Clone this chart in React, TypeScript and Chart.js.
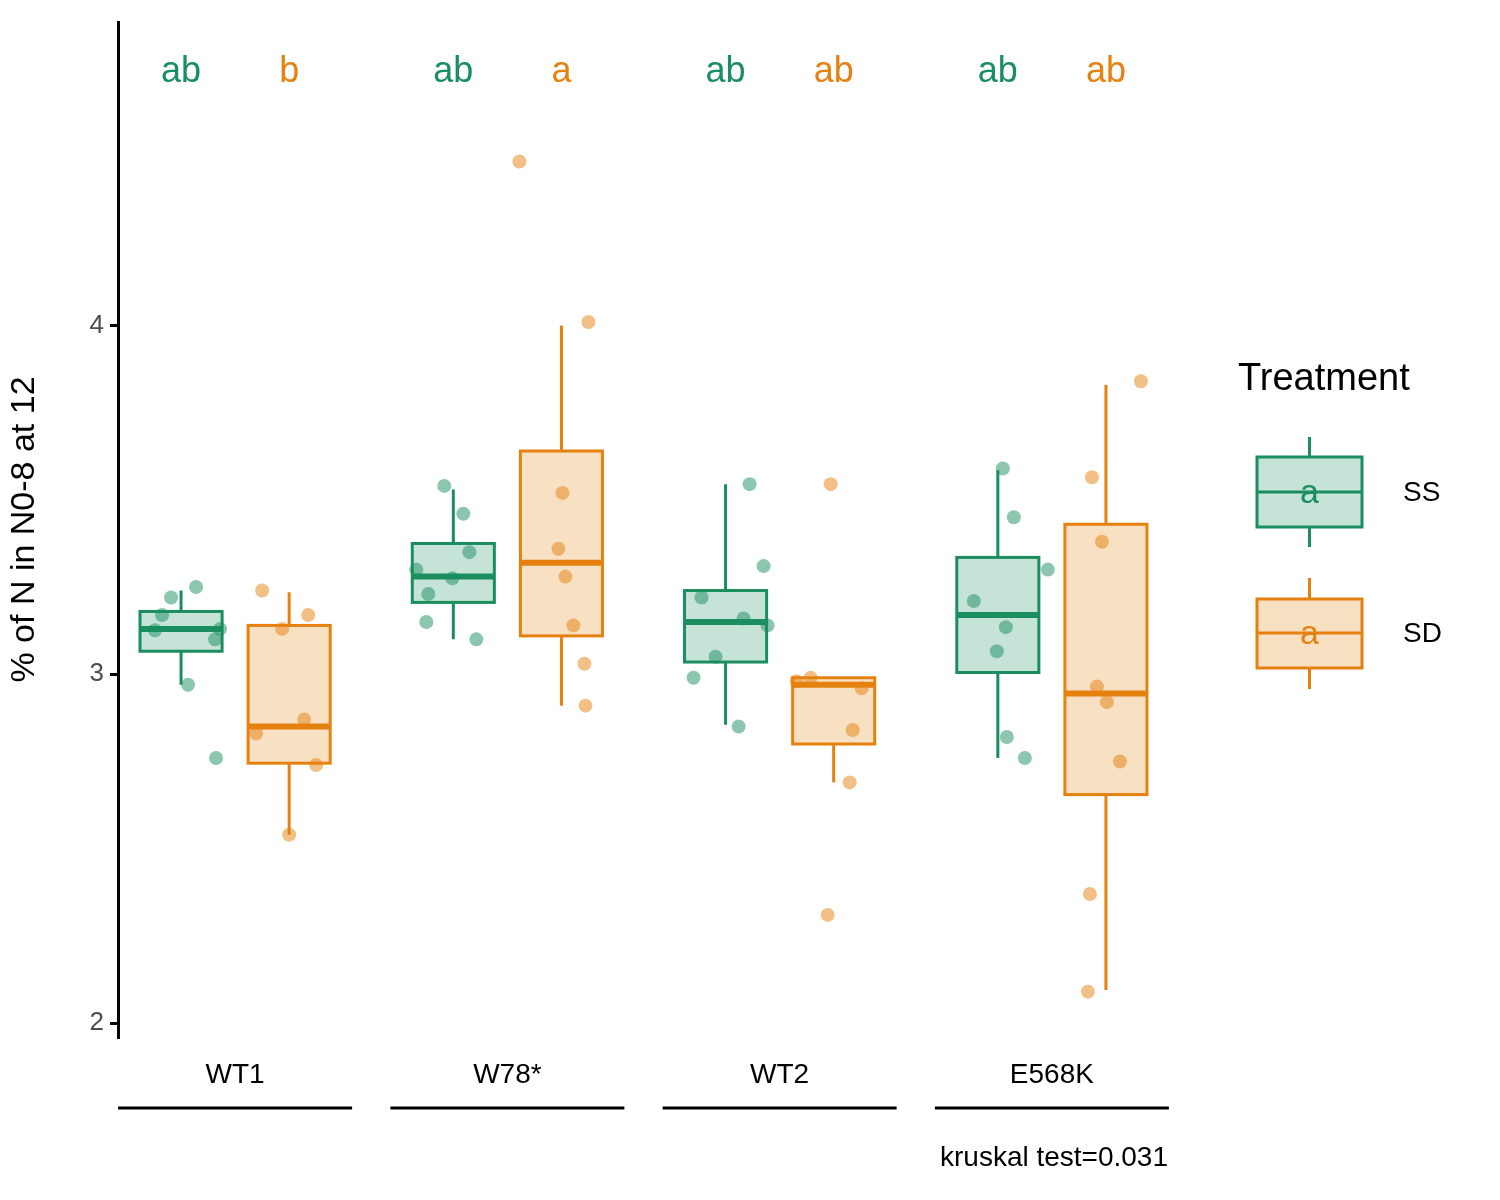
import React, { useEffect, useRef } from "react";
import { Chart, registerables } from "chart.js";
Chart.register(...registerables);

const categories = ["WT1", "W78*", "WT2", "E568K"];
const treatments = ["SS", "SD"];
const colors = ["#1b8e60", "#e5820f"];
const letters = [["ab", "b"], ["ab", "a"], ["ab", "ab"], ["ab", "ab"]];
// [whiskerLow, q1, median, q3, whiskerHigh] per category
const boxSS = [
  [2.97, 3.066, 3.13, 3.18, 3.24],
  [3.10, 3.206, 3.28, 3.375, 3.53],
  [2.855, 3.035, 3.15, 3.24, 3.545],
  [2.76, 3.005, 3.17, 3.335, 3.585],
];
const boxSD = [
  [2.54, 2.745, 2.85, 3.14, 3.235],
  [2.91, 3.11, 3.32, 3.64, 4.0],
  [2.69, 2.80, 2.97, 2.99, 2.99],
  [2.095, 2.655, 2.945, 3.43, 3.83],
];
const ptsSS = [
  [3.126, 3.17, 3.22, 3.25, 2.97, 2.76, 3.10, 3.13],
  [3.54, 3.46, 3.35, 3.30, 3.23, 3.275, 3.15, 3.10],
  [3.545, 3.22, 3.31, 3.16, 3.14, 3.05, 2.99, 2.85],
  [3.59, 3.45, 3.21, 3.135, 3.30, 3.066, 2.82, 2.76],
];
const jitSS = [
  [-26, -19, -10, 15, 7, 35, 34, 39],
  [-9, 10, 16, -37, -25, -1, -27, 23],
  [24, -24, 38, 18, 42, -10, -32, 13],
  [5, 16, -24, 8, 50, -1, 9, 27],
];
const ptsSD = [
  [3.24, 3.13, 3.17, 2.87, 2.83, 2.74, 2.54],
  [4.47, 4.01, 3.52, 3.36, 3.28, 3.14, 3.03, 2.91],
  [3.545, 2.98, 2.99, 2.96, 2.84, 2.69, 2.31],
  [3.84, 3.565, 3.38, 2.965, 2.92, 2.75, 2.37, 2.09],
];
const jitSD = [
  [-27, -7, 19, 15, -33, 27, 0],
  [-42, 27, 1, -3, 4, 12, 23, 24],
  [-3, -37, -23, 28, 19, 16, -6],
  [35, -14, -4, -9, 1, 14, -16, -18],
];
const yTicks = [2, 3, 4];
const kruskal = "kruskal test=0.031";
const yTitle = "% of N in N0-8 at 12";

const PX_PER_UNIT = 272;
const DODGE = 54 / PX_PER_UNIT;
const HALF_BOX = 41 / PX_PER_UNIT;
const FONT = "Liberation Sans, Arial, sans-serif";

function alpha(hex: string, a: number) {
  const n = parseInt(hex.slice(1), 16);
  return `rgba(${(n >> 16) & 255},${(n >> 8) & 255},${n & 255},${a})`;
}

export default function App() {
  const ref = useRef<HTMLCanvasElement>(null);
  useEffect(() => {
    const boxes = [boxSS, boxSD];
    const pts = [ptsSS, ptsSD];
    const jits = [jitSS, jitSD];
    const datasets = treatments.map((t, ti) => ({
      label: t,
      data: pts[ti].flatMap((arr, ci) =>
        arr.map((v, k) => ({ x: ci + 1 + (ti === 0 ? -DODGE : DODGE) + jits[ti][ci][k] / PX_PER_UNIT, y: v }))
      ),
      backgroundColor: alpha(colors[ti], 0.5),
      borderWidth: 0,
      pointRadius: 7,
      order: 0,
    }));

    const boxPlugin = {
      id: "boxes",
      beforeDatasetsDraw(chart: any) {
        const { ctx, scales } = chart;
        const x = scales.x, y = scales.y;
        boxes.forEach((bx, ti) => {
          bx.forEach((b, ci) => {
            const cx = ci + 1 + (ti === 0 ? -DODGE : DODGE);
            const xl = x.getPixelForValue(cx - HALF_BOX), xr = x.getPixelForValue(cx + HALF_BOX), xc = x.getPixelForValue(cx);
            const [lo, q1, md, q3, hi] = b.map((v: number) => y.getPixelForValue(v));
            ctx.save();
            ctx.strokeStyle = colors[ti];
            ctx.lineWidth = 3;
            ctx.beginPath();
            ctx.moveTo(xc, hi); ctx.lineTo(xc, q3);
            ctx.moveTo(xc, q1); ctx.lineTo(xc, lo);
            ctx.stroke();
            ctx.fillStyle = alpha(colors[ti], 0.25);
            ctx.fillRect(xl, q3, xr - xl, q1 - q3);
            ctx.strokeRect(xl, q3, xr - xl, q1 - q3);
            ctx.lineWidth = 6;
            ctx.beginPath(); ctx.moveTo(xl, md); ctx.lineTo(xr, md); ctx.stroke();
            ctx.restore();
          });
        });
      },
      afterDraw(chart: any) {
        const { ctx, scales, chartArea } = chart;
        const x = scales.x, y = scales.y;
        ctx.save();
        ctx.textAlign = "center";
        ctx.textBaseline = "middle";
        // letters
        ctx.font = `36px ${FONT}`;
        letters.forEach((pair, ci) => {
          pair.forEach((l, ti) => {
            ctx.fillStyle = colors[ti];
            ctx.fillText(l, x.getPixelForValue(ci + 1 + (ti === 0 ? -DODGE : DODGE)), y.getPixelForValue(4.725));
          });
        });
        // x labels and underline bars
        categories.forEach((c, ci) => {
          const xc = x.getPixelForValue(ci + 1);
          ctx.fillStyle = "#000";
          ctx.font = `28px ${FONT}`;
          ctx.fillText(c, xc, chartArea.bottom + 38);
          ctx.strokeStyle = "#000";
          ctx.lineWidth = 3;
          ctx.beginPath();
          ctx.moveTo(xc - 117, chartArea.bottom + 71);
          ctx.lineTo(xc + 117, chartArea.bottom + 71);
          ctx.stroke();
        });
        ctx.textAlign = "right";
        ctx.font = `28px ${FONT}`;
        ctx.fillStyle = "#000";
        ctx.fillText(kruskal, chartArea.right - 2, chartArea.bottom + 121);
        // legend
        ctx.textAlign = "left";
        ctx.font = `38px ${FONT}`;
        ctx.fillText("Treatment", 1238, 380);
        const keys = [[437, 457, 492, 527, 547], [578, 599, 633, 668, 689]];
        keys.forEach((k, ti) => {
          const xl = 1257, xr = 1362, xc = (xl + xr) / 2;
          ctx.strokeStyle = colors[ti];
          ctx.lineWidth = 3;
          ctx.beginPath();
          ctx.moveTo(xc, k[0]); ctx.lineTo(xc, k[1]);
          ctx.moveTo(xc, k[3]); ctx.lineTo(xc, k[4]);
          ctx.stroke();
          ctx.fillStyle = alpha(colors[ti], 0.25);
          ctx.fillRect(xl, k[1], xr - xl, k[3] - k[1]);
          ctx.strokeRect(xl, k[1], xr - xl, k[3] - k[1]);
          ctx.beginPath(); ctx.moveTo(xl, k[2]); ctx.lineTo(xr, k[2]); ctx.stroke();
          ctx.fillStyle = colors[ti];
          ctx.textAlign = "center";
          ctx.font = `34px ${FONT}`;
          ctx.fillText("a", xc, k[2] + 2);
          ctx.fillStyle = "#000";
          ctx.textAlign = "left";
          ctx.font = `28px ${FONT}`;
          ctx.fillText(treatments[ti], 1403, k[2] + 1);
        });
        ctx.restore();
      },
    };

    const chart = new Chart(ref.current!, {
      type: "scatter",
      data: { datasets } as any,
      options: {
        animation: false,
        responsive: false,
        layout: { padding: { top: 22, right: 330, bottom: 163, left: 0 } },
        plugins: { legend: { display: false }, tooltip: { enabled: false } },
        scales: {
          x: { type: "linear", min: 1 - 117 / PX_PER_UNIT, max: 4 + 118 / PX_PER_UNIT, display: false },
          y: {
            min: 1.96,
            max: 4.87,
            afterFit: (s: any) => { s.width = 118; },
            afterBuildTicks: (s: any) => { s.ticks = yTicks.map((v) => ({ value: v })); },
            ticks: { color: "#4d4d4d", font: { size: 26, family: FONT }, padding: 6 },
            grid: { drawOnChartArea: false, tickLength: 8, color: "#000", lineWidth: 3 },
            border: { color: "#000", width: 3 },
            title: { display: true, text: yTitle, color: "#000", font: { size: 34, family: FONT }, padding: 4 },
          },
        },
      } as any,
      plugins: [boxPlugin],
    });
    return () => chart.destroy();
  }, []);
  return (
    <div style={{ margin: -8, background: "#fff", width: 1500, height: 1200 }}>
      <canvas ref={ref} width={1500} height={1200} style={{ display: "block" }} />
    </div>
  );
}
